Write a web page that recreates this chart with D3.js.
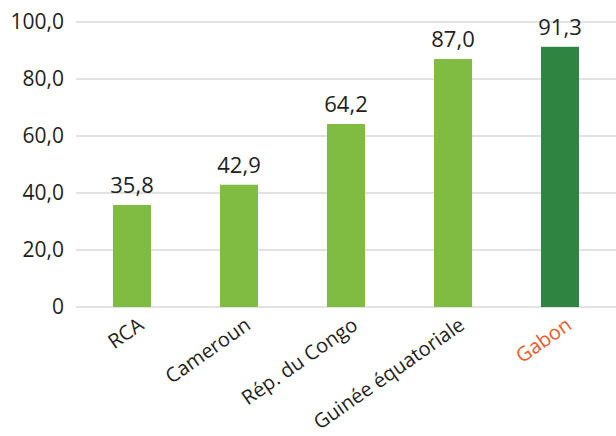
<!DOCTYPE html>
<html>
<head>
<meta charset="utf-8">
<script src="https://cdn.jsdelivr.net/npm/d3@7"></script>
<style>
  html, body { margin: 0; padding: 0; background: #fff; }
  svg { display: block; }
  text { font-family: "Open Sans", "Noto Sans", sans-serif; }
</style>
</head>
<body>
<svg id="chart" width="616" height="436"></svg>
<script>
// Countries and their values
const categories = ["RCA", "Cameroun", "Rép. du Congo", "Guinée équatoriale", "Gabon"];
const values = [35.8, 42.9, 64.2, 87.0, 91.3];
const yTicks = [0, 20, 40, 60, 80, 100];
const highlight = "Gabon";

const fmt = v => v === 0 ? "0" : d3.format(".1f")(v).replace(".", ",");

const svg = d3.select("#chart");
const width = 616;

const y = d3.scaleLinear().domain([0, 100]).range([307, 22]);
const x = d3.scaleBand()
  .domain(categories)
  .range([78.5, 613.5])
  .paddingInner(0.645)
  .paddingOuter(0.3225);

// Horizontal gridlines
svg.append("g").selectAll("line")
  .data(yTicks)
  .join("line")
  .attr("x1", 76).attr("x2", width)
  .attr("y1", d => y(d)).attr("y2", d => y(d))
  .attr("stroke", "#d9d9d9")
  .attr("stroke-width", 1.5);

// Y axis labels
const yAxis = d3.axisLeft(y).tickValues(yTicks).tickFormat(fmt).tickSize(0).tickPadding(0);
const yg = svg.append("g").attr("transform", "translate(64,0)").call(yAxis);
yg.select(".domain").remove();
yg.selectAll("text")
  .attr("font-size", 21)
  .attr("fill", "#231f20")
  .attr("font-family", "'Open Sans', sans-serif");

// Bars
svg.append("g").selectAll("rect")
  .data(categories)
  .join("rect")
  .attr("x", d => x(d))
  .attr("width", x.bandwidth())
  .attr("y", (d, i) => y(values[i]))
  .attr("height", (d, i) => y(0) - y(values[i]))
  .attr("fill", d => d === highlight ? "#2e8440" : "#80bc41");

// Value labels
svg.append("g").selectAll("text")
  .data(categories)
  .join("text")
  .attr("x", d => x(d) + x.bandwidth() / 2)
  .attr("y", (d, i) => y(values[i]) - 12)
  .attr("text-anchor", "middle")
  .attr("font-size", 22)
  .attr("fill", "#231f20")
  .text((d, i) => fmt(values[i]));

// X axis labels, rotated
const xAxis = d3.axisBottom(x).tickSize(0).tickPadding(0);
const xg = svg.append("g").attr("transform", "translate(0,307)").call(xAxis);
xg.select(".domain").remove();
xg.selectAll("text")
  .attr("font-size", 20)
  .attr("font-family", "'Open Sans', sans-serif")
  .attr("fill", d => d === highlight ? "#f15a29" : "#231f20")
  .attr("text-anchor", "end")
  .attr("dy", 0)
  .attr("transform", "translate(13,21) rotate(-35)");
</script>
</body>
</html>
